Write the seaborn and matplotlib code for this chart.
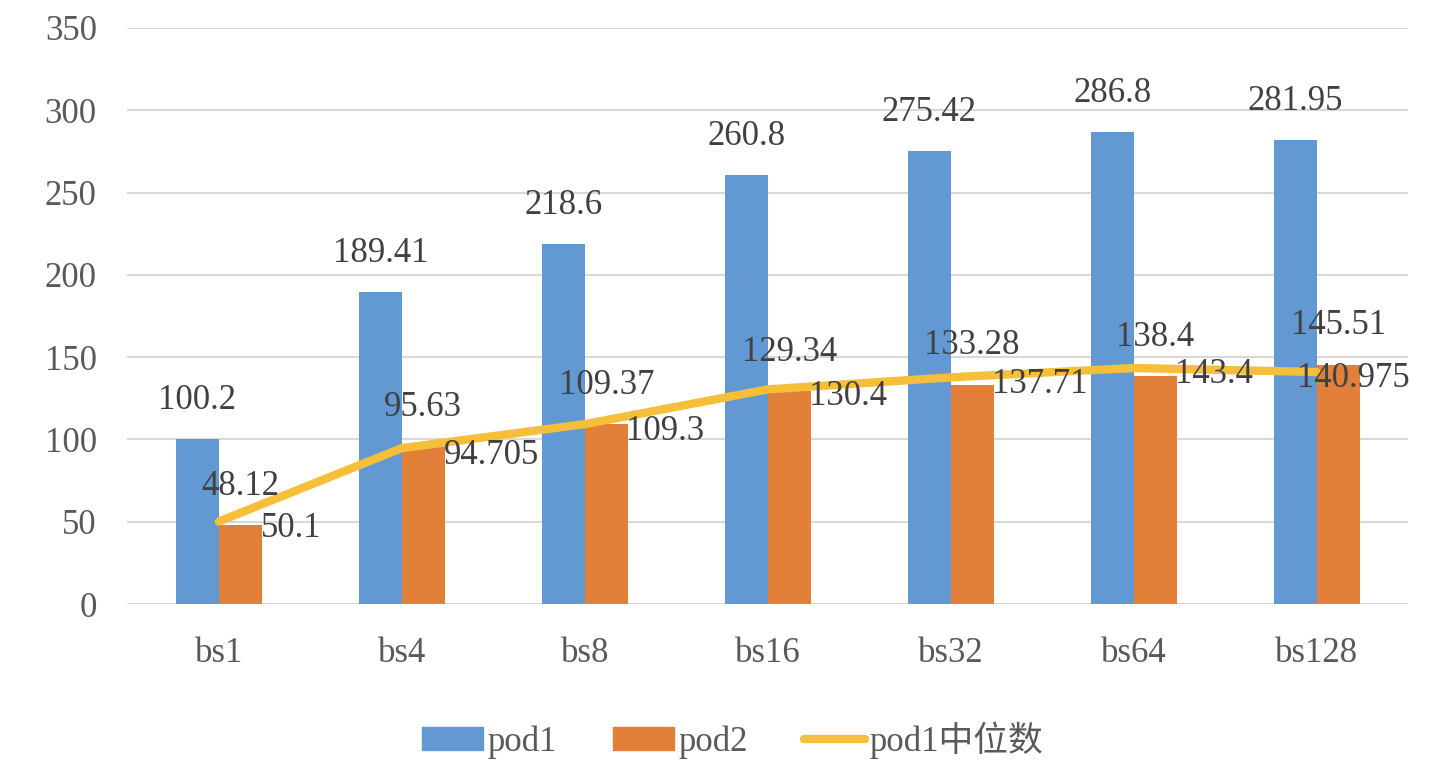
import matplotlib
matplotlib.use("Agg")
import matplotlib.pyplot as plt
import matplotlib.lines as mlines
import matplotlib.patches as mpatches
import numpy as np
import pandas as pd
import seaborn as sns

# Throughput per batch size
categories = ["bs1", "bs4", "bs8", "bs16", "bs32", "bs64", "bs128"]
pod1 = [100.2, 189.41, 218.6, 260.8, 275.42, 286.8, 281.95]
pod2 = [48.12, 95.63, 109.37, 129.34, 133.28, 138.4, 145.51]
pod1_median = [50.1, 94.705, 109.3, 130.4, 137.71, 143.4, 140.975]
median_labels = ["50.1", "94.705", "109.3", "130.4", "137.71", "143.4", "140.975"]
yticks = [0, 50, 100, 150, 200, 250, 300, 350]

BLUE = "#6399D2"
ORANGE = "#E2803A"
YELLOW = "#F5BF3A"
GRID = "#D9D9D9"
TEXT = "#404040"
TICK = "#595959"
FS = 25

sns.set_theme(style="white")
plt.rcParams["font.family"] = ["Liberation Serif", "Noto Sans CJK SC", "DejaVu Sans"]

df = pd.DataFrame({
    "bs": categories * 2,
    "value": pod1 + pod2,
    "series": ["pod1"] * len(categories) + ["pod2"] * len(categories),
})

fig = plt.figure(figsize=(14.31, 7.71), dpi=100)
ax = fig.add_axes([0.089, 0.2166, 0.895, 0.7471])

sns.barplot(data=df, x="bs", y="value", hue="series", order=categories,
            hue_order=["pod1", "pod2"], palette=[BLUE, ORANGE],
            width=0.47, gap=0, saturation=1, linewidth=0, legend=False,
            ax=ax, zorder=2)

xpos = np.arange(len(categories))
sns.lineplot(x=xpos, y=pod1_median, color=YELLOW, linewidth=6,
             solid_capstyle="round", solid_joinstyle="round",
             ax=ax, zorder=3)

for cont in ax.containers:
    ax.bar_label(cont, labels=[f"{v:g}" for v in cont.datavalues],
                 padding=16, fontsize=FS, color=TEXT, zorder=6)

# median labels sit right of each point; the last one is pulled in to stay inside
for i, (x, y, lab) in enumerate(zip(xpos, pod1_median, median_labels)):
    dx = 30 if i < len(xpos) - 1 else -14
    ax.annotate(lab, (x, y), xytext=(dx, -5), textcoords="offset points",
                ha="left", va="center", fontsize=FS, color=TEXT, zorder=6)

ax.set_xlim(-0.5, len(categories) - 0.5)
ax.set_ylim(0, 350)
ax.set_yticks(yticks)
ax.set_yticklabels([str(t) for t in yticks])
ax.yaxis.grid(True, color=GRID, linewidth=1.5, zorder=0)
ax.set_axisbelow(True)
for s in ax.spines.values():
    s.set_visible(False)
ax.tick_params(axis="y", length=0, pad=22, labelsize=FS, labelcolor=TICK)
ax.tick_params(axis="x", length=0, pad=24, labelsize=FS, labelcolor=TICK)
ax.set_xlabel("")
ax.set_ylabel("")

handles = [
    mpatches.Patch(color=BLUE, label="pod1"),
    mpatches.Patch(color=ORANGE, label="pod2"),
    mlines.Line2D([], [], color=YELLOW, linewidth=6, solid_capstyle="round",
                  label="pod1中位数"),
]
fig.legend(handles=handles, loc="center", bbox_to_anchor=(0.512, 0.04),
           ncol=3, frameon=False, fontsize=FS, handlelength=1.75,
           handleheight=0.65, handletextpad=0.15, columnspacing=1.6,
           labelcolor=TICK)

fig.savefig("out.png", dpi=100)
